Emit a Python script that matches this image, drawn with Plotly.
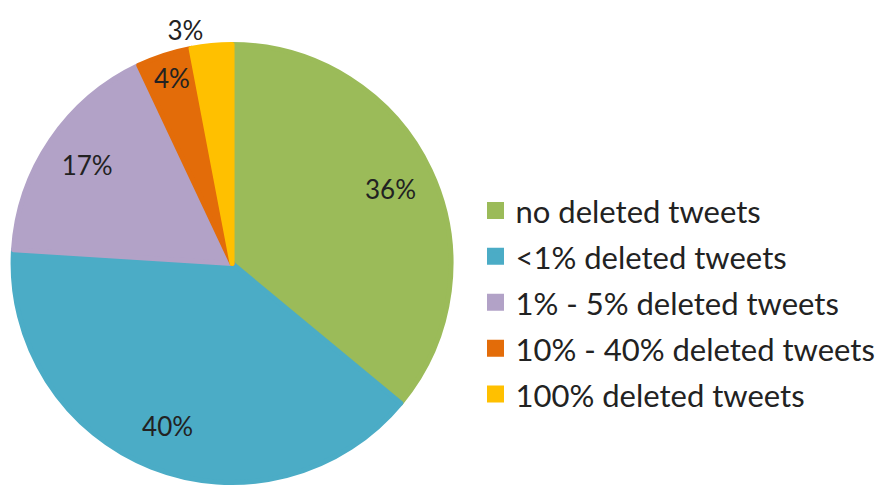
import plotly.graph_objects as go

labels = ["no deleted tweets", "<1% deleted tweets", "1% - 5% deleted tweets",
          "10% - 40% deleted tweets", "100% deleted tweets"]
values = [36, 40, 17, 4, 3]
colors = ["#9BBB59", "#4BACC6", "#B2A2C7", "#E36C09", "#FFC000"]
text_positions = ["inside", "inside", "inside", "inside", "outside"]

FONT = "Lato"
TXT = "#222222"
DOMAIN = dict(x=[0.0057, 0.4972], y=[0.0237, 0.9249])

legend_labels = [
    "<span style='font-size:31px'>" + l.replace("<", "&lt;") + "</span>"
    for l in labels
]

fig = go.Figure()

# coloured pie (provides the legend)
fig.add_trace(go.Pie(
    labels=legend_labels,
    values=values,
    sort=False,
    direction="clockwise",
    rotation=0,
    marker=dict(colors=colors, line=dict(width=5, color=colors)),
    textinfo="none",
    domain=DOMAIN,
    hoverinfo="skip",
))

# transparent ring carrying the percentage labels
fig.add_trace(go.Pie(
    labels=legend_labels,
    values=values,
    sort=False,
    direction="clockwise",
    rotation=0,
    hole=0.6,
    marker=dict(colors=["rgba(0,0,0,0)"] * len(values), line=dict(width=0)),
    texttemplate="%{value}%",
    textposition=text_positions,
    insidetextorientation="horizontal",
    textfont=dict(family=FONT, size=26, color=TXT),
    domain=DOMAIN,
    showlegend=False,
    hovertext=labels,
    hoverinfo="text+percent",
))

fig.update_layout(
    width=891, height=486,
    margin=dict(l=0, r=0, t=0, b=0),
    paper_bgcolor="white",
    plot_bgcolor="white",
    showlegend=True,
    legend=dict(
        x=0.5247, y=0.394, xanchor="left", yanchor="middle",
        font=dict(family=FONT, size=33, color=TXT),
        itemclick=False, itemdoubleclick=False,
    ),
)

fig.write_html("out.html")
